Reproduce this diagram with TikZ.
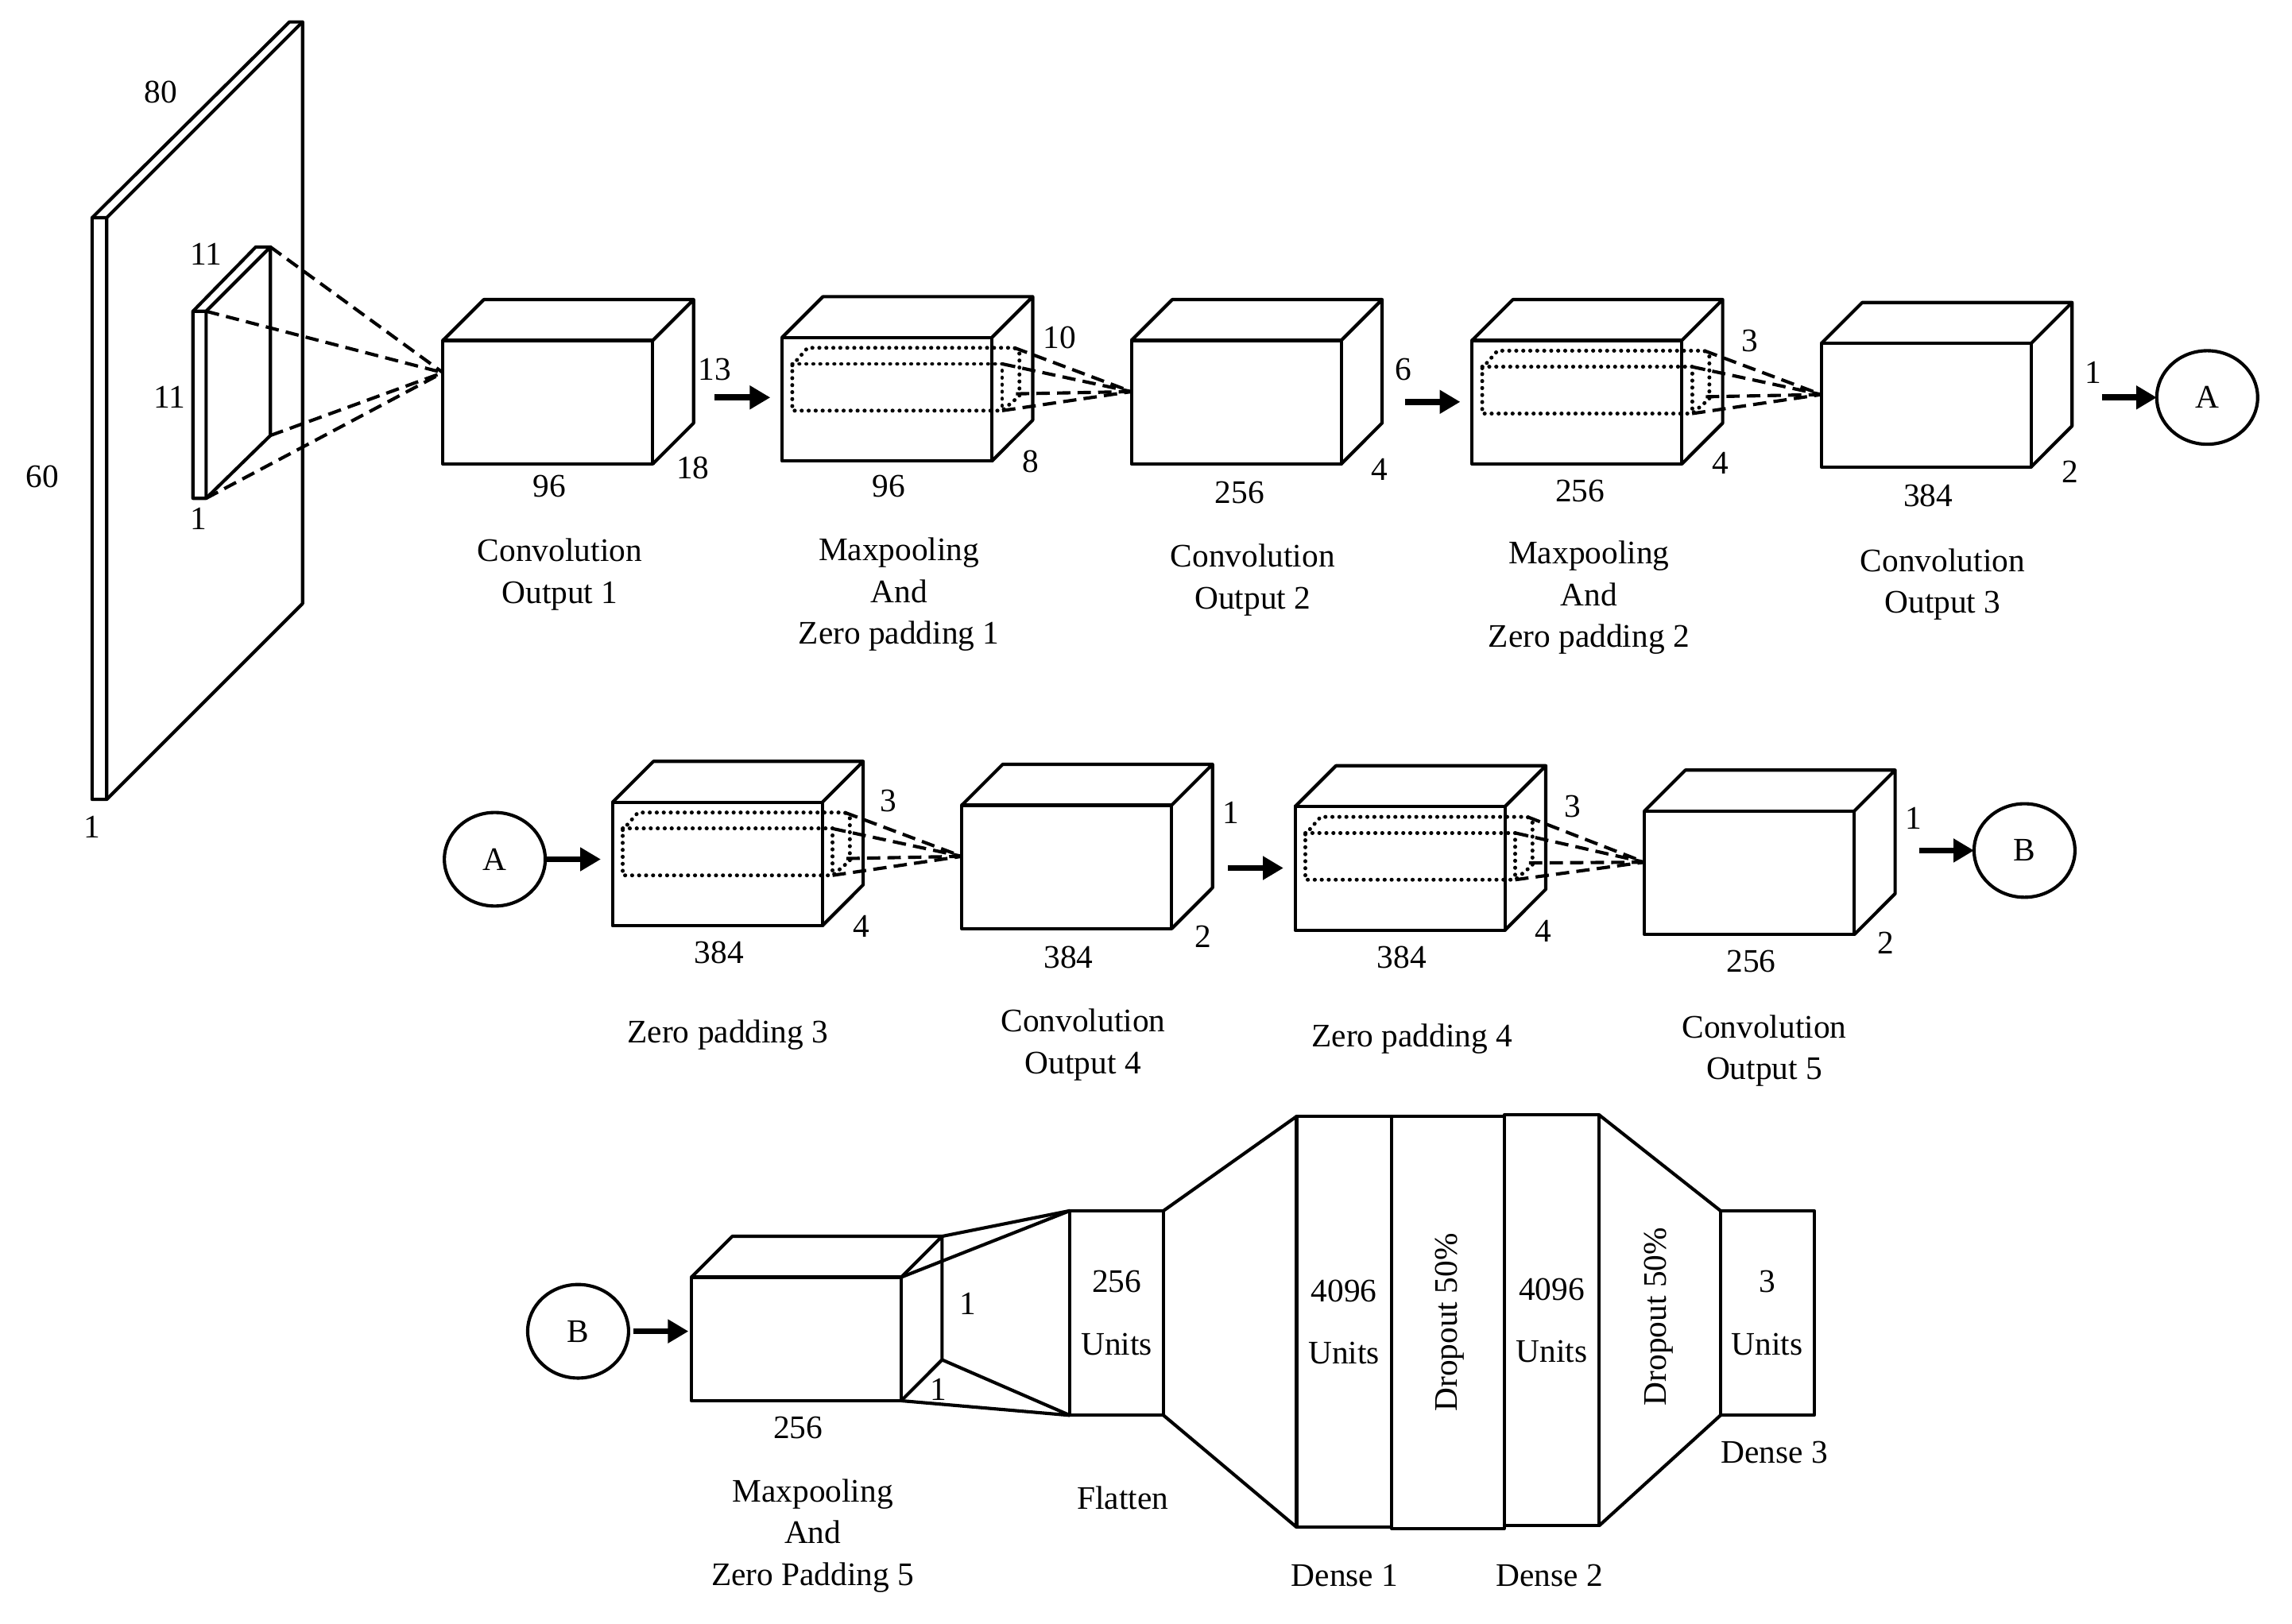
\documentclass[tikz,border=0pt]{standalone}
\usepackage{fontspec}
\setmainfont{Liberation Serif}
\usetikzlibrary{shapes.geometric, positioning, arrows.meta}

\begin{document}
\begin{tikzpicture}[
      x=0.025cm, y=-0.025cm,
      every node/.style={font=\fontsize{16}{20.3}\selectfont, align=center},
      edge/.style={draw=black, line width=1.6pt, line join=round},
      cube/.style={edge, rectangle, anchor=north west, inner sep=0pt, outer sep=0pt,
                   minimum width=3.5875cm, minimum height=2.1125cm},
      dense/.style={edge, rectangle, inner sep=0pt, outer sep=0pt},
      tag/.style={edge, ellipse, inner sep=0pt, outer sep=0pt,
                  minimum width=1.725cm, minimum height=1.6cm},
      dashline/.style={draw=black, line width=1.6pt, dash pattern=on 6.5pt off 3.5pt},
      dots/.style={draw=black, line width=1.9pt, line cap=round, dash pattern=on 0.1pt off 3.3pt},
      arr/.style={-{Triangle[length=10pt, width=11pt]}, draw=black, line width=3pt, shorten >=0.2cm}
    ]
    \useasboundingbox (0,0) rectangle (1568,1111.3);

    % input slab and filter
    \draw[edge] (63,149) -- (198,15) -- (207,15) -- (207,413) -- (73,547) -- (63,547) -- cycle;
    \draw[edge] (73,547) -- (73,149) -- (63,149) (73,149) -- (207,15);
    \draw[edge] (132,213) -- (175,169) -- (185,169) -- (185,298) -- (141,341) -- (132,341) -- cycle;
    \draw[edge] (141,341) -- (141,213) -- (132,213) (141,213) -- (185,169);
    \coordinate (filta) at (185,169);
    \coordinate (filtb) at (141,213);
    \coordinate (filtc) at (185,298);
    \coordinate (filtd) at (141,341);

    % feature map boxes
    \foreach \nm/\xx/\yy in {conv1/303/233, mp1/535/231, conv2/774/233, mp2/1007/233, conv3/1246/235,
                             zp3/419/549, conv4/658/551, zp4/886/552, conv5/1125/555, mp5/473/874}{
      \node[cube] (\nm) at (\xx,\yy) {};
      \draw[edge] (\nm.north west) -- ++(28,-28) -- ++(143.5,0) -- ++(0,84.5) -- (\nm.south east)
                  (\nm.north east) -- ++(28,-28);
    }
    \path (conv1.north west) ++(0,22) coordinate (conv1tip);
    \foreach \nm in {conv2, conv3, conv4, conv5}{
      \path (\nm.north west) ++(0,35) coordinate (\nm tip);
    }
    \foreach \pt in {filta, filtb, filtc, filtd}{
      \draw[dashline] (\pt) -- (conv1tip);
    }

    % dotted receptive fields
    \foreach \nm/\tip in {mp1/conv2tip, mp2/conv3tip, zp3/conv4tip, zp4/conv5tip}{
      \begin{scope}[shift={(\nm.north west)}]
        \draw[dots] (7,19) -- (17.5,7) -- (159,7) -- (162.4,11) -- (162.4,40) -- (150.6,50) -- (7,50) -- cycle;
        \draw[dots] (7,18) -- (150.6,18) -- (150.6,50);
        \coordinate (\nm a) at (159,7);
        \coordinate (\nm b) at (150.6,18);
        \coordinate (\nm c) at (160,38.5);
        \coordinate (\nm d) at (150.6,50);
      \end{scope}
      \foreach \pt in {a, b, c, d}{
        \draw[dashline] (\nm\pt) -- (\tip);
      }
    }

    % page connectors
    \node[tag] (outa) at (1510,272) {A};
    \node[tag] (ina)  at (338.5,588) {A};
    \node[tag] (outb) at (1385,582) {B};
    \node[tag] (inb)  at (395.5,911) {B};

    \coordinate (arrow1) at (489,272);
    \coordinate (arrow2) at (961,275);
    \coordinate (arrow3) at (1438,272);
    \coordinate (arrow4) at (840,594);
    \coordinate (arrow5) at (1313,582);
    \draw[arr] (arrow1) -- (arrow1 -| mp1.west);
    \draw[arr] (arrow2) -- (arrow2 -| mp2.west);
    \draw[arr, shorten >=0pt] (arrow3) -- (outa.west);
    \draw[arr, shorten <=0.03cm] (ina.east) -- (ina.east -| zp3.west);
    \draw[arr] (arrow4) -- (arrow4 -| zp4.west);
    \draw[arr, shorten >=0pt] (arrow5) -- (outb.west);
    \draw[arr, shorten >=0.05cm, shorten <=0.08cm] (inb.east) -- (inb.east -| mp5.west);

    % dense part
    \node[dense, minimum width=1.6cm, minimum height=3.5cm]   (flat)  at (764,898.5)  {256\\[10pt]Units};
    \node[dense, minimum width=1.625cm, minimum height=7.025cm] (dns1) at (919.5,904.5) {4096\\[10pt]Units};
    \node[dense, minimum width=1.925cm, minimum height=7.05cm]  (drop1) at (990.5,905) {\hspace{2pt}\rotatebox{90}{Dropout 50\%}};
    \node[dense, minimum width=1.625cm, minimum height=7.025cm] (dns2) at (1061.5,903.5) {4096\\[10pt]Units};
    \node[dense, minimum width=1.6cm, minimum height=3.5cm]   (dns3)  at (1209,898.5) {3\\[10pt]Units};
    \node[rotate=90] (drop2) at (1135,901) {Dropout 50\%};

    \path (mp5.north east) ++(28,-28) coordinate (mp5top);
    \path (mp5.south east) ++(28,-28) coordinate (mp5bot);
    \draw[edge] (mp5.north east) -- (flat.north west);
    \draw[edge] (mp5top) -- (flat.north west);
    \draw[edge] (mp5.south east) -- (flat.south west);
    \draw[edge] (mp5bot) -- (flat.south west);
    \draw[edge] (flat.north east) -- (dns1.north west);
    \draw[edge] (flat.south east) -- (dns1.south west);
    \draw[edge] (dns2.north east) -- (dns3.north west);
    \draw[edge] (dns2.south east) -- (dns3.south west);

    % size labels
    \foreach \txt/\xx/\yy [count=\i] in {80/110/63, 60/29/326, 11/141/174, 11/116/272, 1/136/355, 1/63/566,
        13/489/253, 96/376/333, 18/474/320, 10/725/231, 96/608/333, 8/705/316,
        6/960/253, 256/848/337, 4/944/321, 3/1197/233, 256/1081/336, 4/1177/317,
        1/1432/255, 384/1319/339, 2/1416/323, 3/608/548, 384/492/652, 4/589/634,
        1/842/556, 384/731/655, 2/823/641, 3/1076/552, 384/959/655, 4/1056/637,
        1/1309/560, 256/1198/658, 2/1290/645, 256/546/977, 1/662/892, 1/642/951}{
      \node[inner sep=0pt] (size\i) at (\xx,\yy) {\txt};
    }

    % captions
    \foreach \txt/\xx/\yy [count=\i] in {Convolution\\Output 1/383/393,
        Maxpooling\\And\\Zero padding 1/615/407, Convolution\\Output 2/857/397,
        Maxpooling\\And\\Zero padding 2/1087/409, Convolution\\Output 3/1329/400,
        Zero padding 3/498/708, Convolution\\Output 4/741/715, Zero padding 4/966/711,
        Convolution\\Output 5/1207/719, Maxpooling\\And\\Zero Padding 5/556/1051,
        Flatten/768/1025, Dense 1/920/1078, Dense 2/1060/1078, Dense 3/1214/994}{
      \node[inner sep=0pt] (capt\i) at (\xx,\yy) {\txt};
    }
  \end{tikzpicture}
\end{document}
